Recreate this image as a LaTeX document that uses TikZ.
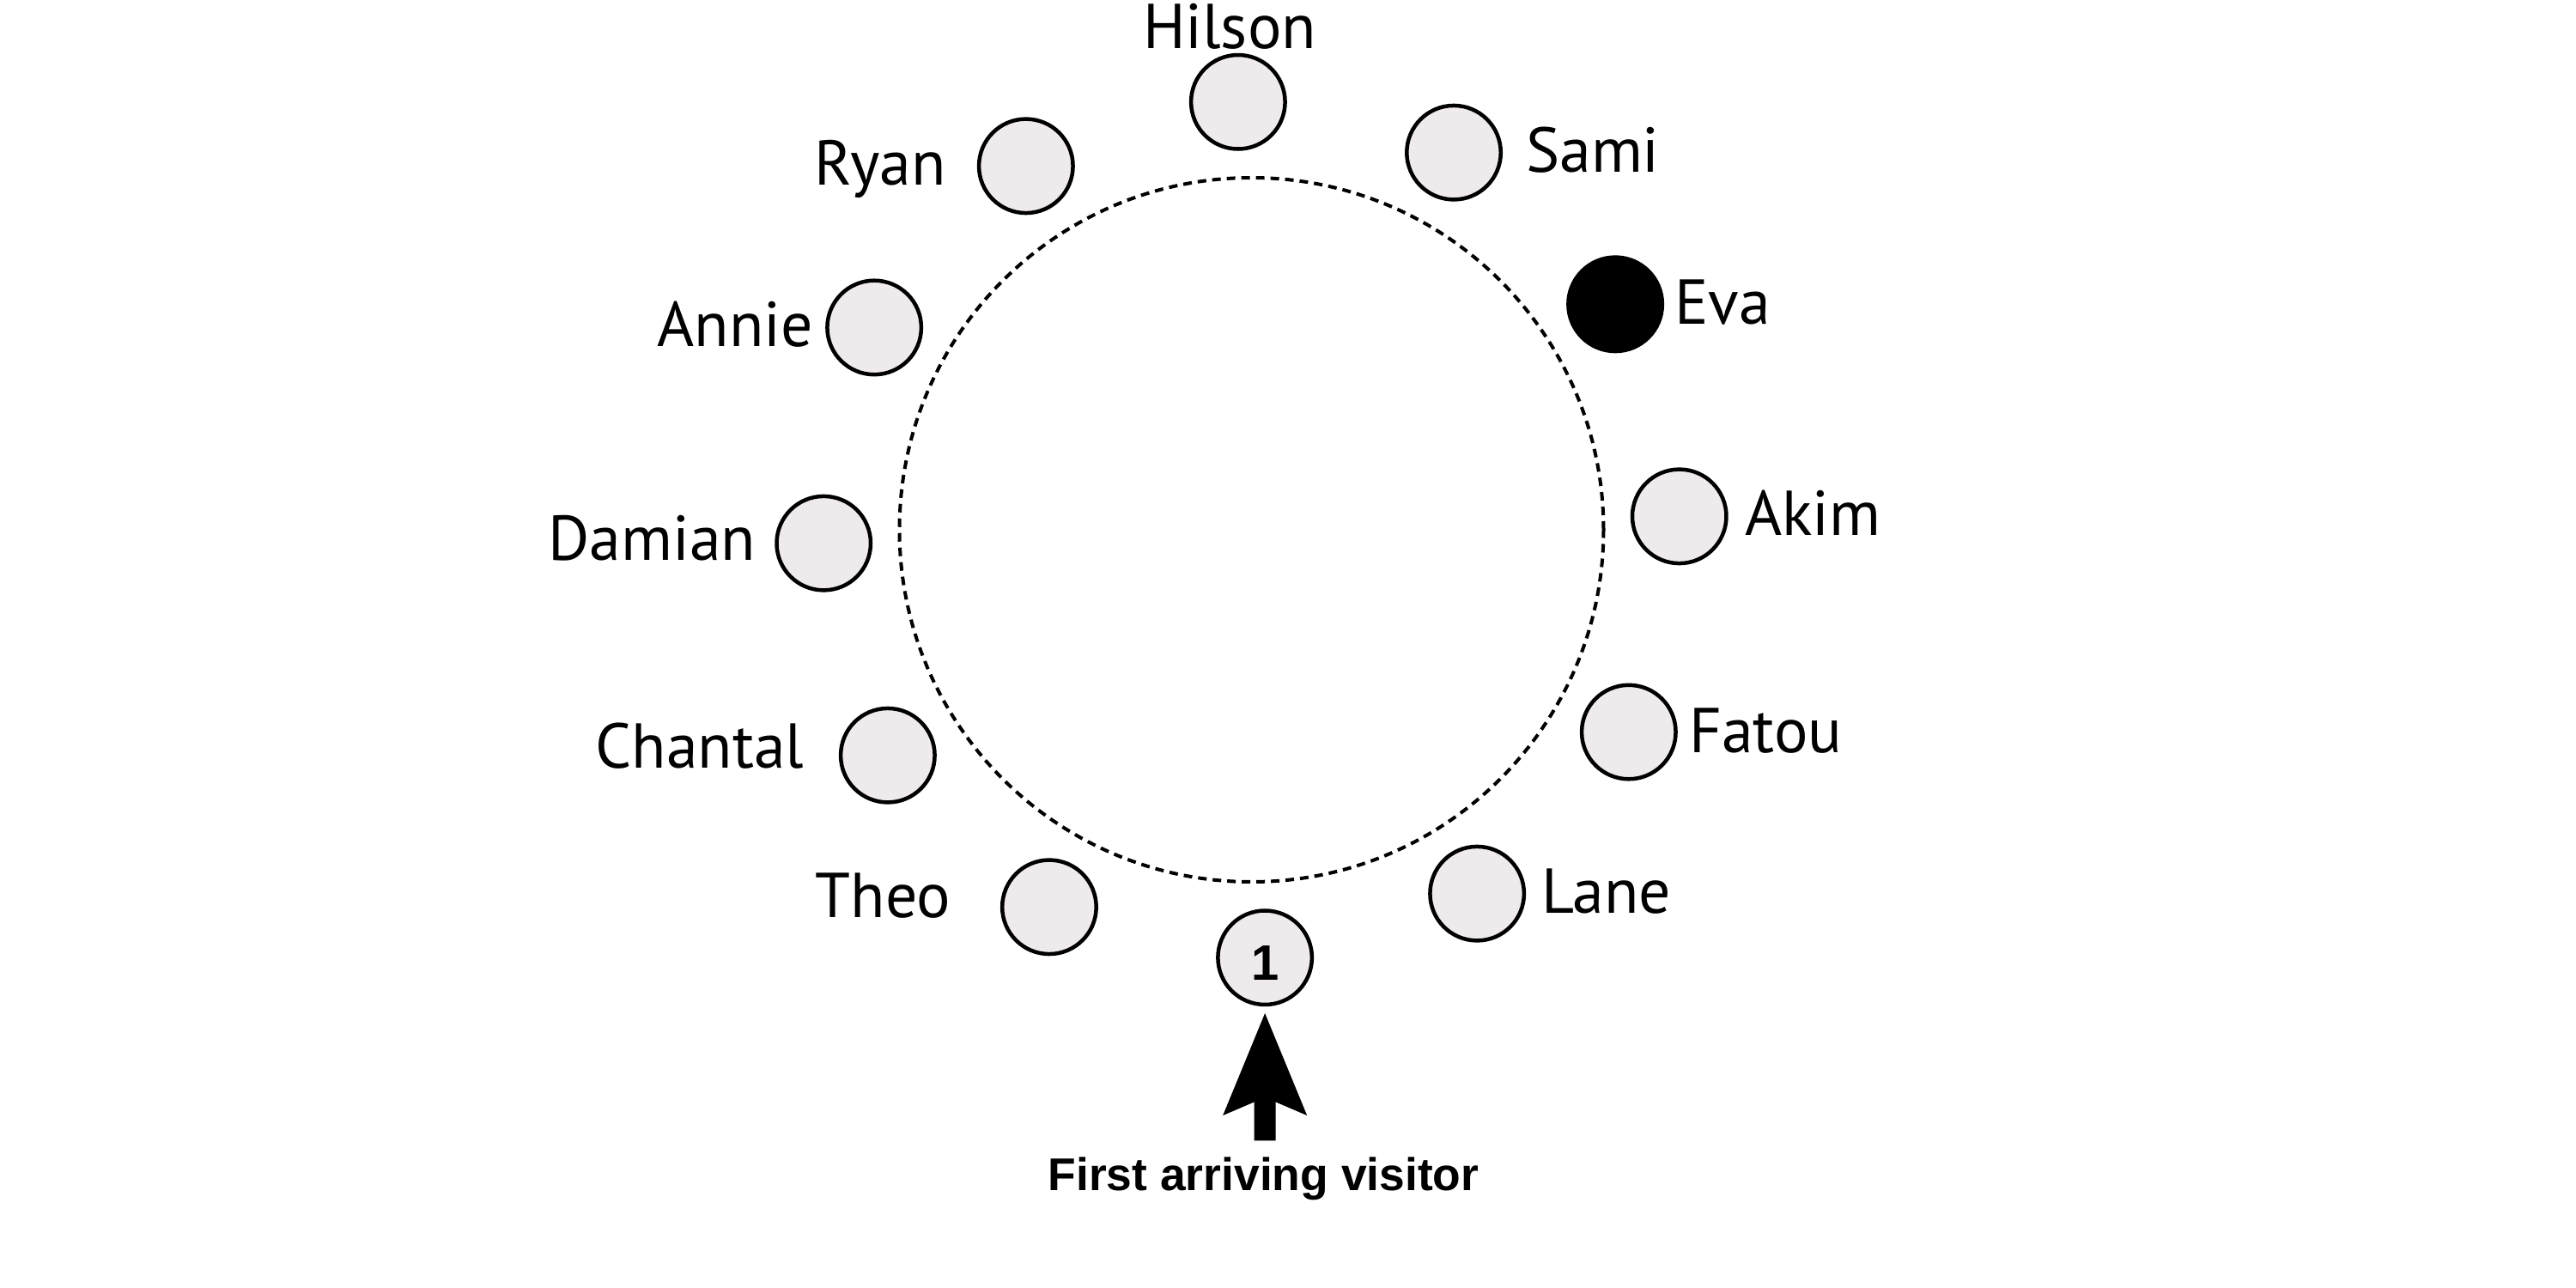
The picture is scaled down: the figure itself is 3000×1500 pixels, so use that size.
\documentclass[tikz,border=0pt]{standalone}
\usepackage{fontspec}
\setmainfont{PT Sans}
\newfontfamily\visitorfont{Liberation Sans}
\usetikzlibrary{arrows.meta}
\definecolor{seat}{RGB}{239,234,236}

\begin{document}
\begin{tikzpicture}[x=0.1mm, y=0.1mm,
		guest/.style={circle, draw, line width=0.45mm, fill=seat, minimum size=10.95mm, inner sep=0pt},
		arrived/.style={guest, fill=black},
		seatlabel/.style={inner sep=0pt, font=\fontsize{21}{25}\selectfont},
		number/.style={inner sep=0pt, font=\visitorfont\bfseries\fontsize{16.5}{18}\selectfont},
		visit/.style={line width=2.5mm, -{Stealth[length=11.9mm, width=9.8mm, inset=2.1mm, line width=0pt]}, shorten >=0.78mm}]
	\useasboundingbox (-1457.5,-883) rectangle (1542.5,617);

	\draw[line width=0.4mm, dash pattern=on 1mm off 0.7mm] (0,0) circle (410);

	\foreach \who/\look [count=\i from 0] in {hilson/guest, sami/guest, eva/arrived, akim/guest, fatou/guest, lane/guest, first/guest, theo/guest, chantal/guest, damian/guest, annie/guest, ryan/guest}
		\draw ({91.8-30*\i}:498.5) node [\look] (\who) {};

	\draw (-25.5,560.4) node [seatlabel, anchor=base] (hilson-name) {Hilson};
	\draw (319,416) node [seatlabel, anchor=base west] (sami-name) {Sami};
	\draw (492,239) node [seatlabel, anchor=base west] (eva-name) {Eva};
	\draw (574,-7) node [seatlabel, anchor=base west] (akim-name) {Akim};
	\draw (509,-259) node [seatlabel, anchor=base west] (fatou-name) {Fatou};
	\draw (337,-446) node [seatlabel, anchor=base west] (lane-name) {Lane};
	\draw (-349.5,-451.6) node [seatlabel, anchor=base east] (theo-name) {Theo};
	\draw (-520.5,-277.4) node [seatlabel, anchor=base east] (chantal-name) {Chantal};
	\draw (-576.5,-35.7) node [seatlabel, anchor=base east] (damian-name) {Damian};
	\draw (-510,213) node [seatlabel, anchor=base east] (annie-name) {Annie};
	\draw (-355,401) node [seatlabel, anchor=base east] (ryan-name) {Ryan};

	\draw (first) ++(0,-6) node [number] (first-no) {1};

	\draw (14,-769.7) node [number, anchor=base, font=\visitorfont\bfseries\fontsize{15.2}{18}\selectfont] (caption) {First arriving visitor};
	\coordinate (foot) at (15.66,-711.3);
	\draw[visit] (foot) -- (first);
\end{tikzpicture}
\end{document}
